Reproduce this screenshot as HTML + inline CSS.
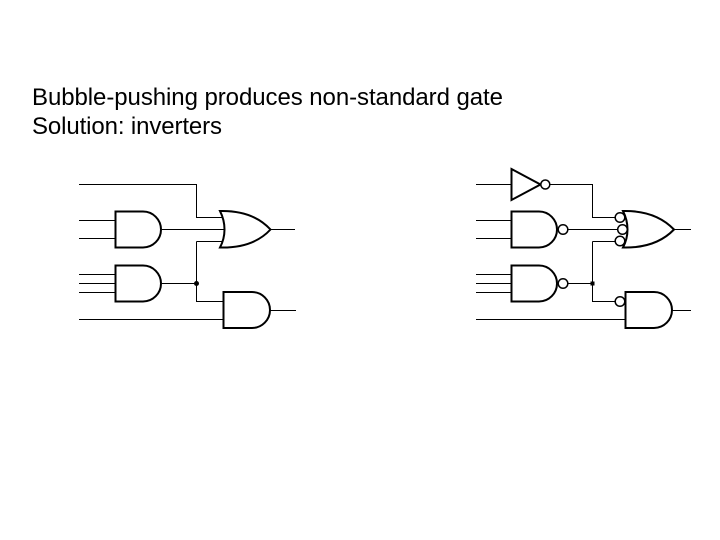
<!DOCTYPE html>
<html>
<head>
<meta charset="utf-8">
<style>
html,body{margin:0;padding:0;background:#fff}
svg{display:block}
text{font-family:"Liberation Sans",sans-serif;font-size:24px;fill:#000}
.w{fill:none;stroke:#000;stroke-width:1}
.g{fill:#fff;stroke:#000;stroke-width:2}
.b{fill:#fff;stroke:#000;stroke-width:1.5}
</style>
</head>
<body>
<svg width="720" height="540" viewBox="0 0 720 540" xmlns="http://www.w3.org/2000/svg">
<rect width="720" height="540" fill="#fff"/>
<text x="32" y="105" textLength="471">Bubble-pushing produces non-standard gate</text>
<text x="32" y="134" textLength="190">Solution: inverters</text>

<!-- Left circuit -->
<path class="w" d="M79 184.500H196.500V217.500H222M79 220.500H115M79 238.500H115M162 229.500H225M271 229.500H295M79 274.500H115M79 283.500H115M79 292.500H115M162 283.500H196.500M196.500 241.500H222M196.500 241.500V301.500H223M79 319.500H223M270 310.500H296"/>
<path class="g" d="M115.500 211.500H143A18 18 0 0 1 143 247.500H115.500Z"/>
<path class="g" d="M115.500 265.500H143A18 18 0 0 1 143 301.500H115.500Z"/>
<path class="g" d="M223.500 292H252A18 18 0 0 1 252 328H223.500Z"/>
<path class="g" d="M220 211C241 210.500 258 216 270.500 229.500C258 243 241 248 220 247.500C226 236 226 223 220 211Z"/>
<path class="w" d="M196 229.500H225"/>
<circle cx="196.500" cy="283.500" r="2.500" fill="#000"/>

<!-- Right circuit -->
<path class="w" d="M476 184.500H511M550 184.500H592.500V217.500H616M476 220.500H511M476 238.500H511M568 229.500H618M674 229.500H691M476 274.500H511M476 283.500H511M476 292.500H511M568 283.500H592.500M592.500 241.500H616M592.500 241.500V301.500H616M476 319.500H626M672 310.500H691"/>
<path class="g" d="M511.500 169L540.500 184.500L511.500 200Z"/>
<circle class="b" cx="545.300" cy="184.500" r="4.500"/>
<path class="g" d="M511.500 211.500H539A18 18 0 0 1 539 247.500H511.500Z"/>
<circle class="b" cx="563" cy="229.500" r="4.800"/>
<path class="g" d="M511.500 265.500H539A18 18 0 0 1 539 301.500H511.500Z"/>
<circle class="b" cx="563" cy="283.500" r="4.800"/>
<path class="g" d="M625.500 292H654A18 18 0 0 1 654 328H625.500Z"/>
<circle class="b" cx="620" cy="301.500" r="4.800"/>
<path class="g" d="M623 211C644 210.500 661 216 674 229.500C661 243 644 248 623 247.500C629 236 629 223 623 211Z"/>
<circle class="b" cx="620" cy="217.500" r="4.800"/>
<circle class="b" cx="622.500" cy="229.500" r="4.800"/>
<circle class="b" cx="620" cy="241" r="4.800"/>
<rect x="590.500" y="281.500" width="4" height="4" fill="#000"/>
</svg>
</body>
</html>
